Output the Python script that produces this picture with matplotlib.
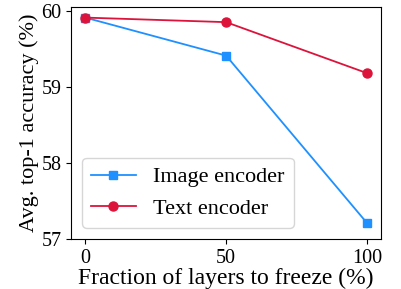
import numpy as np
import matplotlib
matplotlib.use("Agg")
import matplotlib.pyplot as plt

plt.rcParams['font.family'] = ['Liberation Serif', 'DejaVu Serif']
plt.rcParams['mathtext.fontset'] = 'stix'

fractions = [0, 50, 100]
image_acc = [59.91, 59.41, 57.21]
text_acc = [59.91, 59.85, 59.18]
yticks = [57, 58, 59, 60]


def main():
    fig, ax = plt.subplots(figsize=(4.02, 2.89), dpi=100)
    ax.plot(fractions, image_acc, marker="s", markersize=5.5, lw=1.3,
            color="#1E90FF", label="Image encoder")
    ax.plot(fractions, text_acc, marker="o", markersize=6.5, lw=1.3,
            color="#DC143C", label="Text encoder")
    ax.set_xticks(fractions)
    ax.set_yticks(yticks)
    ax.set_ylim(57, 60.05)
    ax.tick_params(labelsize=14.5)
    ax.set_xlabel("Fraction of layers to freeze (%)", fontsize=17, labelpad=0)
    ax.set_ylabel("Avg. top-1 accuracy (%)", fontsize=16, labelpad=2)
    ax.legend(loc="lower left", fontsize=16)
    fig.subplots_adjust(left=0.177, right=0.948, top=0.976, bottom=0.173)
    fig.savefig("out.png", dpi=100)


if __name__ == "__main__":
    main()
